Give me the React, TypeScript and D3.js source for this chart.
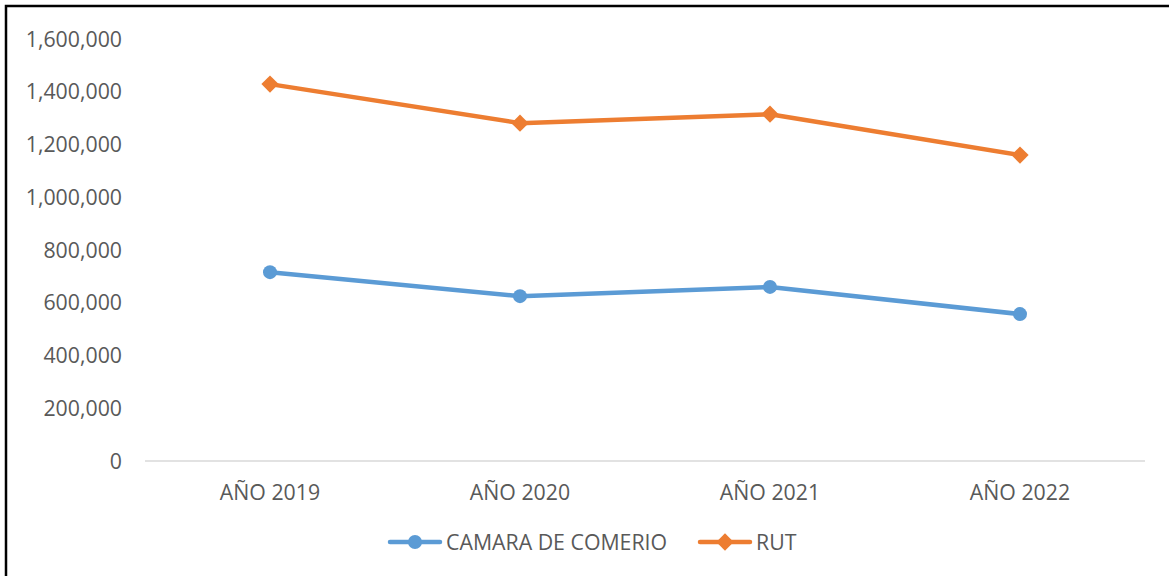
import { useEffect, useRef } from 'react';
import * as d3 from 'd3';

const categories = ['AÑO 2019', 'AÑO 2020', 'AÑO 2021', 'AÑO 2022'];
const camaraValues = [716000, 625000, 660000, 557000];
const rutValues = [1429000, 1281000, 1315000, 1160000];
const yTicks = [0, 200000, 400000, 600000, 800000, 1000000, 1200000, 1400000, 1600000];
const seriesNames = ['CAMARA DE COMERIO', 'RUT'];

const BLUE = '#5B9BD5';
const ORANGE = '#ED7D31';
const TEXT = '#595959';
const FONT = "'Open Sans', 'Noto Sans', sans-serif";
const FONT_SIZE = 21.3;

export default function App() {
  const svgRef = useRef<SVGSVGElement | null>(null);

  useEffect(() => {
    if (!svgRef.current) return;
    const svg = d3.select(svgRef.current);
    svg.selectAll('*').remove();

    const width = 1169;
    const height = 576;
    const plot = { left: 145, right: 1145, top: 39, bottom: 461 };

    svg.attr('width', width).attr('height', height);

    svg.append('rect')
      .attr('width', width)
      .attr('height', height)
      .attr('fill', 'white');

    // Outer border (top and left visible)
    svg.append('rect')
      .attr('x', 6)
      .attr('y', 6)
      .attr('width', width + 10)
      .attr('height', height + 10)
      .attr('fill', 'none')
      .attr('stroke', '#000')
      .attr('stroke-width', 2.5);

    const x = d3.scaleBand()
      .domain(categories)
      .range([plot.left, plot.right]);

    const y = d3.scaleLinear()
      .domain([0, 1600000])
      .range([plot.bottom, plot.top]);

    // Y tick labels
    svg.append('g')
      .selectAll('text')
      .data(yTicks)
      .join('text')
      .attr('x', 122)
      .attr('y', (d) => y(d))
      .attr('dy', '0.36em')
      .attr('text-anchor', 'end')
      .attr('font-family', FONT)
      .attr('font-size', FONT_SIZE)
      .attr('fill', TEXT)
      .text((d) => d3.format(',')(d));

    // Baseline
    svg.append('line')
      .attr('x1', plot.left)
      .attr('x2', plot.right)
      .attr('y1', y(0))
      .attr('y2', y(0))
      .attr('stroke', '#D9D9D9')
      .attr('stroke-width', 1.5);

    // X labels
    svg.append('g')
      .selectAll('text')
      .data(categories)
      .join('text')
      .attr('x', (d) => (x(d) as number) + x.bandwidth() / 2)
      .attr('y', 492)
      .attr('dy', '0.36em')
      .attr('text-anchor', 'middle')
      .attr('font-family', FONT)
      .attr('font-size', FONT_SIZE)
      .attr('fill', TEXT)
      .text((d) => d);

    const cx = (i: number) => (x(categories[i]) as number) + x.bandwidth() / 2;

    const line = d3.line<number>()
      .x((_, i) => cx(i))
      .y((d) => y(d));

    const diamond = d3.symbol().type(d3.symbolDiamond2).size(190);

    // Camara series
    svg.append('path')
      .datum(camaraValues)
      .attr('fill', 'none')
      .attr('stroke', BLUE)
      .attr('stroke-width', 4.5)
      .attr('stroke-linejoin', 'round')
      .attr('d', line);

    svg.append('g')
      .selectAll('circle')
      .data(camaraValues)
      .join('circle')
      .attr('cx', (_, i) => cx(i))
      .attr('cy', (d) => y(d))
      .attr('r', 7)
      .attr('fill', BLUE);

    // RUT series
    svg.append('path')
      .datum(rutValues)
      .attr('fill', 'none')
      .attr('stroke', ORANGE)
      .attr('stroke-width', 4.5)
      .attr('stroke-linejoin', 'round')
      .attr('d', line);

    svg.append('g')
      .selectAll('path')
      .data(rutValues)
      .join('path')
      .attr('transform', (d, i) => `translate(${cx(i)},${y(d)})`)
      .attr('d', diamond)
      .attr('fill', ORANGE);

    // Legend
    const legendY = 542;
    const legend = [
      { name: seriesNames[0], color: BLUE, x0: 388, shape: 'circle' },
      { name: seriesNames[1], color: ORANGE, x0: 698, shape: 'diamond' },
    ];

    legend.forEach((l) => {
      const g = svg.append('g');
      g.append('line')
        .attr('x1', l.x0 + 2)
        .attr('x2', l.x0 + 52)
        .attr('y1', legendY)
        .attr('y2', legendY)
        .attr('stroke', l.color)
        .attr('stroke-width', 4.5)
        .attr('stroke-linecap', 'round');
      if (l.shape === 'circle') {
        g.append('circle')
          .attr('cx', l.x0 + 27)
          .attr('cy', legendY)
          .attr('r', 7)
          .attr('fill', l.color);
      } else {
        g.append('path')
          .attr('transform', `translate(${l.x0 + 27},${legendY})`)
          .attr('d', diamond)
          .attr('fill', l.color);
      }
      g.append('text')
        .attr('x', l.x0 + 58)
        .attr('y', legendY)
        .attr('dy', '0.36em')
        .attr('font-family', FONT)
        .attr('font-size', FONT_SIZE)
        .attr('fill', TEXT)
        .text(l.name);
    });
  }, []);

  return (
    <div>
      <style>{'body{margin:0}'}</style>
      <svg ref={svgRef} style={{ display: 'block' }}></svg>
    </div>
  );
}
